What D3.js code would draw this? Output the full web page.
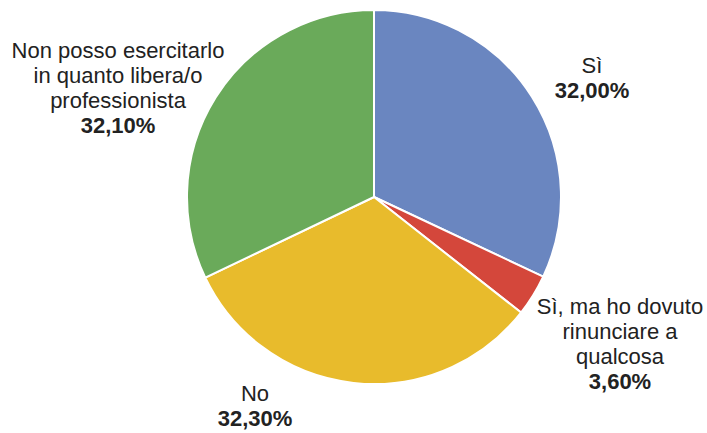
<!DOCTYPE html>
<html>
<head>
<meta charset="utf-8">
<script src="https://cdn.jsdelivr.net/npm/d3@7"></script>
<style>
body { margin: 0; background: #fff; }
text { font-family: "Liberation Sans", Arial, sans-serif; fill: #222; }
</style>
</head>
<body>
<div id="chart"></div>
<script>
var categories = ["Sì", "Sì, ma ho dovuto rinunciare a qualcosa", "No", "Non posso esercitarlo in quanto libera/o professionista"];
var values = [32.0, 3.6, 32.3, 32.1];
var valueLabels = ["32,00%", "3,60%", "32,30%", "32,10%"];
var labelLines = [
    ["Sì"],
    ["Sì, ma ho dovuto", "rinunciare a", "qualcosa"],
    ["No"],
    ["Non posso esercitarlo", "in quanto libera/o", "professionista"]
];
var colors = ["#6a86c0", "#d4473b", "#e8bb2c", "#6aaa5a"];

var width = 707, height = 433;
var cx = 374, cy = 197, radius = 187;

var svg = d3.select("#chart")
    .append("svg")
    .attr("width", width)
    .attr("height", height);

var pie = d3.pie().sort(null).value(function (d) { return d; });
var arc = d3.arc().innerRadius(0).outerRadius(radius);

var g = svg.append("g")
    .attr("transform", "translate(" + cx + "," + cy + ")");

g.selectAll("path")
    .data(pie(values))
    .enter()
    .append("path")
    .attr("d", arc)
    .attr("fill", function (d, i) { return colors[i]; })
    .style("stroke", "#ffffff")
    .style("stroke-width", 2);

// label anchor points (centre x, first baseline y)
var labelPos = [[592, 73], [620, 314], [255, 401], [118, 58]];
var lineH = 25;

labelLines.forEach(function (lines, i) {
    var t = svg.append("text")
        .attr("text-anchor", "middle")
        .attr("font-size", 22);
    lines.forEach(function (l, j) {
        t.append("tspan")
            .attr("x", labelPos[i][0])
            .attr("y", labelPos[i][1] + j * lineH)
            .text(l);
    });
    t.append("tspan")
        .attr("x", labelPos[i][0])
        .attr("y", labelPos[i][1] + lines.length * lineH)
        .attr("font-weight", "bold")
        .text(valueLabels[i]);
});
</script>
</body>
</html>
